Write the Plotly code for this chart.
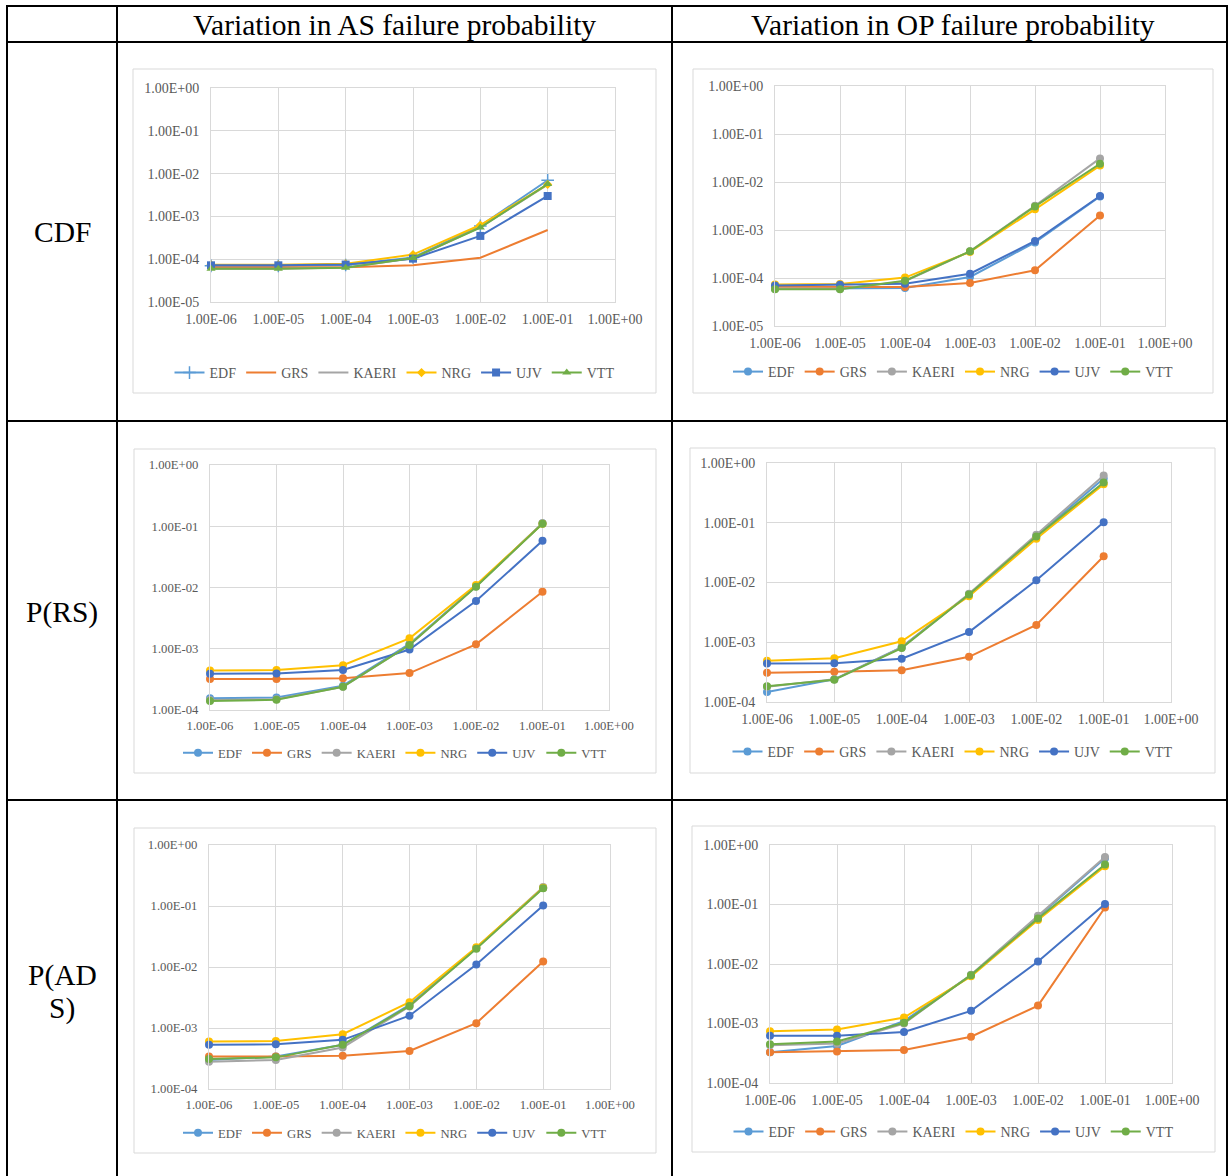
import plotly.graph_objects as go

# ---------------- data ----------------
X_VALUES = [1e-6, 1e-5, 1e-4, 1e-3, 1e-2, 1e-1]
X_TICK_VALUES = [1e-6, 1e-5, 1e-4, 1e-3, 1e-2, 1e-1, 1e0]
X_TICK_LABELS = ["1.00E-06", "1.00E-05", "1.00E-04", "1.00E-03", "1.00E-02", "1.00E-01", "1.00E+00"]
Y_TICK_VALUES_5 = [1e-5, 1e-4, 1e-3, 1e-2, 1e-1, 1e0]
Y_TICK_LABELS_5 = ["1.00E-05", "1.00E-04", "1.00E-03", "1.00E-02", "1.00E-01", "1.00E+00"]
Y_TICK_VALUES_4 = [1e-4, 1e-3, 1e-2, 1e-1, 1e0]
Y_TICK_LABELS_4 = ["1.00E-04", "1.00E-03", "1.00E-02", "1.00E-01", "1.00E+00"]

SERIES_NAMES = ["EDF", "GRS", "KAERI", "NRG", "UJV", "VTT"]
COLUMN_HEADERS = ["Variation in AS failure probability", "Variation in OP failure probability"]
ROW_LABELS = ["CDF", "P(RS)", "P(AD", "S)"]

# CDF - variation in AS failure probability
CDF_AS_EDF = [7.0e-5, 7.0e-5, 7.3e-5, 1.10e-4, 6.0e-4, 7.0e-3]
CDF_AS_GRS = [6.5e-5, 6.5e-5, 6.5e-5, 7.2e-5, 1.08e-4, 4.8e-4]
CDF_AS_KAERI = [6.0e-5, 6.0e-5, 6.4e-5, 1.05e-4, 5.6e-4, 5.5e-3]
CDF_AS_NRG = [7.4e-5, 7.4e-5, 7.8e-5, 1.28e-4, 6.3e-4, 5.6e-3]
CDF_AS_UJV = [7.2e-5, 7.2e-5, 7.5e-5, 1.03e-4, 3.5e-4, 3.0e-3]
CDF_AS_VTT = [6.0e-5, 6.0e-5, 6.3e-5, 1.07e-4, 5.5e-4, 5.7e-3]

# CDF - variation in OP failure probability
CDF_OP_EDF = [6.0e-5, 6.0e-5, 6.2e-5, 1.05e-4, 5.5e-4, 5.0e-3]
CDF_OP_GRS = [6.6e-5, 6.6e-5, 6.5e-5, 7.9e-5, 1.45e-4, 2.0e-3]
CDF_OP_KAERI = [6.0e-5, 6.0e-5, 8.5e-5, 3.6e-4, 3.2e-3, 3.1e-2]
CDF_OP_NRG = [7.3e-5, 7.5e-5, 1.02e-4, 3.5e-4, 2.7e-3, 2.2e-2]
CDF_OP_UJV = [7.0e-5, 7.2e-5, 7.6e-5, 1.23e-4, 5.9e-4, 5.1e-3]
CDF_OP_VTT = [5.8e-5, 5.8e-5, 8.8e-5, 3.6e-4, 3.1e-3, 2.4e-2]

# P(RS) - variation in AS failure probability
RS_AS_EDF = [1.55e-4, 1.6e-4, 2.5e-4, 1.2e-3, 1.05e-2, 1.12e-1]
RS_AS_GRS = [3.2e-4, 3.2e-4, 3.3e-4, 4.0e-4, 1.18e-3, 8.5e-3]
RS_AS_KAERI = [1.45e-4, 1.5e-4, 2.4e-4, 1.15e-3, 1.05e-2, 1.12e-1]
RS_AS_NRG = [4.4e-4, 4.5e-4, 5.4e-4, 1.48e-3, 1.1e-2, 1.1e-1]
RS_AS_UJV = [3.9e-4, 3.95e-4, 4.5e-4, 9.7e-4, 6.0e-3, 5.8e-2]
RS_AS_VTT = [1.4e-4, 1.47e-4, 2.4e-4, 1.15e-3, 1.03e-2, 1.1e-1]

# P(RS) - variation in OP failure probability
RS_OP_EDF = [1.47e-4, 2.4e-4, 8.3e-4, 6.3e-3, 6.0e-2, 5.5e-1]
RS_OP_GRS = [3.1e-4, 3.2e-4, 3.4e-4, 5.7e-4, 1.95e-3, 2.75e-2]
RS_OP_KAERI = [1.8e-4, 2.4e-4, 8.2e-4, 6.5e-3, 6.3e-2, 6.2e-1]
RS_OP_NRG = [4.9e-4, 5.4e-4, 1.04e-3, 5.9e-3, 5.4e-2, 4.4e-1]
RS_OP_UJV = [4.4e-4, 4.45e-4, 5.3e-4, 1.48e-3, 1.09e-2, 1.02e-1]
RS_OP_VTT = [1.83e-4, 2.36e-4, 8.0e-4, 6.3e-3, 5.9e-2, 4.7e-1]

# P(ADS) - variation in AS failure probability
ADS_AS_EDF = [3.0e-4, 3.4e-4, 5.3e-4, 2.4e-3, 2.05e-2, 2.0e-1]
ADS_AS_GRS = [3.4e-4, 3.4e-4, 3.5e-4, 4.2e-4, 1.2e-3, 1.23e-2]
ADS_AS_KAERI = [2.8e-4, 3.0e-4, 4.8e-4, 2.25e-3, 2.05e-2, 2.05e-1]
ADS_AS_NRG = [6.0e-4, 6.1e-4, 7.9e-4, 2.65e-3, 2.1e-2, 2.0e-1]
ADS_AS_UJV = [5.3e-4, 5.4e-4, 6.4e-4, 1.59e-3, 1.1e-2, 1.02e-1]
ADS_AS_VTT = [3.1e-4, 3.3e-4, 5.3e-4, 2.3e-3, 2.0e-2, 1.95e-1]

# P(ADS) - variation in OP failure probability
ADS_OP_EDF = [3.3e-4, 4.2e-4, 1.1e-3, 6.5e-3, 6.2e-2, 6.0e-1]
ADS_OP_GRS = [3.3e-4, 3.4e-4, 3.6e-4, 6.0e-4, 2.0e-3, 8.9e-2]
ADS_OP_KAERI = [4.3e-4, 4.6e-4, 1.0e-3, 6.6e-3, 6.5e-2, 6.3e-1]
ADS_OP_NRG = [7.4e-4, 7.9e-4, 1.26e-3, 6.2e-3, 5.5e-2, 4.4e-1]
ADS_OP_UJV = [6.2e-4, 6.2e-4, 7.2e-4, 1.63e-3, 1.1e-2, 1.02e-1]
ADS_OP_VTT = [4.5e-4, 5.0e-4, 1.03e-3, 6.5e-3, 5.8e-2, 4.7e-1]

# ---------------- styling / layout ----------------
W, H = 1228, 1176
SERIF = "Liberation Serif, Times New Roman, serif"
COLORS = ["#5B9BD5", "#ED7D31", "#A5A5A5", "#FFC000", "#4472C4", "#70AD47"]
GRID = "#D9D9D9"
LABEL = "#595959"


def px(x):
    return x / W


def py(y):
    return 1 - y / H


# chart geometry in pixels: box, plot area, legend y, font size, y-decade min
CHARTS = [
    dict(series=[CDF_AS_EDF, CDF_AS_GRS, CDF_AS_KAERI, CDF_AS_NRG, CDF_AS_UJV, CDF_AS_VTT],
         box=(133, 69, 656, 393), plot=(211, 88, 615, 302), leg=373, font=14, ymin=-5,
         excel_markers=True),
    dict(series=[CDF_OP_EDF, CDF_OP_GRS, CDF_OP_KAERI, CDF_OP_NRG, CDF_OP_UJV, CDF_OP_VTT],
         box=(693, 69, 1213, 393), plot=(775, 86, 1165, 326), leg=372, font=14, ymin=-5),
    dict(series=[RS_AS_EDF, RS_AS_GRS, RS_AS_KAERI, RS_AS_NRG, RS_AS_UJV, RS_AS_VTT],
         box=(134, 449, 656, 773), plot=(210, 465, 609, 710), leg=753, font=12.7, ymin=-4),
    dict(series=[RS_OP_EDF, RS_OP_GRS, RS_OP_KAERI, RS_OP_NRG, RS_OP_UJV, RS_OP_VTT],
         box=(690, 448, 1215, 773), plot=(767, 463, 1171, 702), leg=752, font=14, ymin=-4),
    dict(series=[ADS_AS_EDF, ADS_AS_GRS, ADS_AS_KAERI, ADS_AS_NRG, ADS_AS_UJV, ADS_AS_VTT],
         box=(134, 828, 656, 1153), plot=(209, 845, 610, 1089), leg=1133, font=12.7, ymin=-4),
    dict(series=[ADS_OP_EDF, ADS_OP_GRS, ADS_OP_KAERI, ADS_OP_NRG, ADS_OP_UJV, ADS_OP_VTT],
         box=(692, 826, 1215, 1152), plot=(770, 845, 1172, 1083), leg=1132, font=14, ymin=-4),
]

EXCEL_MARKERS = [
    dict(symbol="cross-thin", size=9, line=dict(width=1.5)),
    None,
    None,
    dict(symbol="diamond", size=7),
    dict(symbol="square", size=8),
    dict(symbol="triangle-up", size=8),
]

fig = go.Figure()
shapes = []
layout = {}

for i, ch in enumerate(CHARTS):
    n = i + 1
    xa = "x" if n == 1 else f"x{n}"
    ya = "y" if n == 1 else f"y{n}"
    leg = "legend" if n == 1 else f"legend{n}"
    x0, y0, x1, y1 = ch["plot"]
    bx0, by0, bx1, by1 = ch["box"]
    fs = ch["font"]

    shapes.append(dict(type="rect", xref="paper", yref="paper", layer="below",
                       x0=px(bx0), x1=px(bx1), y0=py(by1), y1=py(by0),
                       line=dict(color=GRID, width=1), fillcolor="white"))

    for k, (name, vals) in enumerate(zip(SERIES_NAMES, ch["series"])):
        color = COLORS[k]
        if ch.get("excel_markers"):
            m = EXCEL_MARKERS[k]
            if m is None:
                mode = "lines"
                marker = dict(color=color)
            else:
                mode = "lines+markers"
                marker = dict(color=color, symbol=m["symbol"], size=m["size"])
                if "line" in m:
                    marker["line"] = dict(color=color, width=m["line"]["width"])
        else:
            mode = "lines+markers"
            marker = dict(color=color, symbol="circle", size=8)
        fig.add_trace(go.Scatter(
            x=X_VALUES, y=vals, name=name, mode=mode,
            line=dict(color=color, width=2), marker=marker,
            xaxis=xa, yaxis=ya, legend=leg, cliponaxis=False,
        ))

    yvals = Y_TICK_VALUES_5 if ch["ymin"] == -5 else Y_TICK_VALUES_4
    ytext = Y_TICK_LABELS_5 if ch["ymin"] == -5 else Y_TICK_LABELS_4

    axis_common = dict(showgrid=True, gridcolor=GRID, gridwidth=1,
                       showline=True, linecolor=GRID, linewidth=1, mirror=True,
                       zeroline=False, ticks="", automargin=False,
                       tickfont=dict(family=SERIF, size=fs, color=LABEL))
    layout["xaxis" if n == 1 else f"xaxis{n}"] = dict(
        type="log", range=[-6, 0], domain=[px(x0), px(x1)],
        anchor=ya, tickvals=X_TICK_VALUES, ticktext=X_TICK_LABELS,
        ticklabelstandoff=4, **axis_common)
    layout["yaxis" if n == 1 else f"yaxis{n}"] = dict(
        type="log", range=[ch["ymin"], 0], domain=[py(y1), py(y0)],
        anchor=xa, tickvals=yvals, ticktext=ytext,
        ticklabelstandoff=8, **axis_common)
    layout[leg] = dict(orientation="h", x=px((bx0 + bx1) / 2), y=py(ch["leg"]),
                       xanchor="center", yanchor="middle", xref="paper", yref="paper",
                       bgcolor="rgba(0,0,0,0)", borderwidth=0,
                       font=dict(family=SERIF, size=fs, color=LABEL),
                       itemclick=False, itemdoubleclick=False)

# table lines
BLACK = "black"
TW = 2
for yy in [6, 42, 421, 800]:
    shapes.append(dict(type="line", xref="paper", yref="paper",
                       x0=px(6), x1=px(1228), y0=py(yy), y1=py(yy),
                       line=dict(color=BLACK, width=TW)))
for xx in [7, 117, 672, 1227]:
    shapes.append(dict(type="line", xref="paper", yref="paper",
                       x0=px(xx), x1=px(xx), y0=py(5), y1=py(1176),
                       line=dict(color=BLACK, width=TW)))

annotations = []
for txt, cx in zip(COLUMN_HEADERS, [395, 953]):
    annotations.append(dict(text=txt, x=px(cx), y=py(25), xref="paper", yref="paper",
                            xanchor="center", yanchor="middle", showarrow=False,
                            font=dict(family=SERIF, size=29.5, color="black")))
for txt, cy in zip(ROW_LABELS, [232, 612, 975, 1008]):
    annotations.append(dict(text=txt, x=px(62), y=py(cy), xref="paper", yref="paper",
                            xanchor="center", yanchor="middle", showarrow=False,
                            font=dict(family=SERIF, size=29.5, color="black")))

fig.update_layout(
    width=W, height=H, margin=dict(l=0, r=0, t=0, b=0, pad=0, autoexpand=False),
    paper_bgcolor="white", plot_bgcolor="white", hovermode=False,
    shapes=shapes, annotations=annotations, **layout,
)

fig.write_html("out.html", config={"displayModeBar": False, "staticPlot": True},
               post_script="document.body.style.margin='0';document.body.style.overflow='hidden';")
